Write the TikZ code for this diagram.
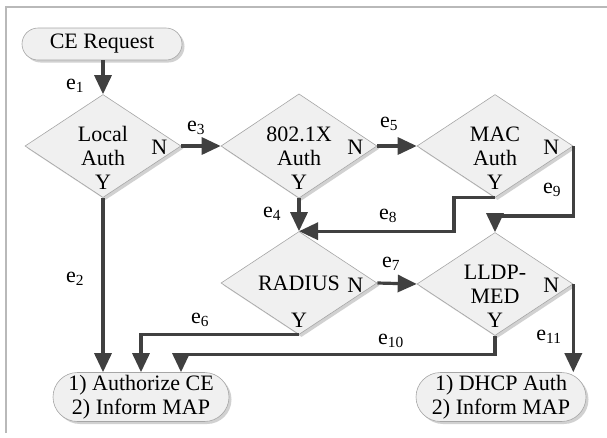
\documentclass[tikz,border=0pt]{standalone}
\usepackage{fontspec}
\setmainfont{Liberation Serif}
\usetikzlibrary{shapes.geometric,shapes.misc,arrows.meta,shadows,calc}

\tikzset{
  shapeline/.style={draw=gray!70, line width=0.6pt, fill=gray!12,
    drop shadow={shadow xshift=2.5pt, shadow yshift=-2.5pt, fill=gray!45, opacity=0.8}},
  decision/.style={shapeline, diamond, minimum width=156pt, minimum height=103pt,
    inner sep=0pt, align=center},
  terminal/.style={shapeline, rounded rectangle, inner sep=0pt, align=center},
  flow/.style={draw=black!75, line width=3.2pt,
    -{Triangle[length=19pt,width=17pt]}},
  branch/.style={inner sep=0pt},
  edgelbl/.style={inner sep=0pt},
}

\begin{document}
\begin{tikzpicture}[x=1pt, y=-1pt, font=\fontsize{22}{24}\selectfont]
\useasboundingbox (0,0) rectangle (607,437);

% page frame
\draw[gray!55, line width=1.2pt] (6,433) -- (6,7) -- (607,7);

% start and end states
\node[terminal, minimum width=160pt, minimum height=32pt] (ce) at (102,44) {CE Request};
\node[terminal, minimum width=176pt, minimum height=49pt] (auth) at (141,397)
  {1) Authorize CE\\2) Inform MAP};
\node[terminal, minimum width=170pt, minimum height=49pt] (dhcp) at (501,397)
  {1) DHCP Auth\\2) Inform MAP};

% decisions
\node[decision] (local) at (103,146) {Local\\Auth};
\node[decision] (dot1x) at (299,146) {802.1X\\Auth};
\node[decision] (mac)   at (495,146) {MAC\\Auth};
\node[decision] (rad)   at (299,283) {RADIUS};
\node[decision] (lldp)  at (495,284) {LLDP-\\MED};

% branch marks
\node[branch] (localN) at ($(local.east)+(-22,1)$) {N};
\node[branch] (localY) at ($(local.south)+(0,-16)$) {Y};
\node[branch] (dot1xN) at ($(dot1x.east)+(-22,1)$) {N};
\node[branch] (dot1xY) at ($(dot1x.south)+(0,-16)$) {Y};
\node[branch] (macN)   at ($(mac.east)+(-22,1)$) {N};
\node[branch] (macY)   at ($(mac.south)+(0,-16)$) {Y};
\node[branch] (radN)   at ($(rad.east)+(-22,2)$) {N};
\node[branch] (radY)   at ($(rad.south)+(0,-15)$) {Y};
\node[branch] (lldpN)  at ($(lldp.east)+(-22,1)$) {N};
\node[branch] (lldpY)  at ($(lldp.south)+(0,-16)$) {Y};

% connectors
\draw[flow] (ce.south -| local.north) -- (local.north);
\draw[flow] (local.south) -- (local.south |- auth.north);
\draw[flow] (local.east) -- (dot1x.west);
\draw[flow] (dot1x.south) -- (rad.north);
\draw[flow] (dot1x.east) -- (mac.west);
\draw[flow] (rad.south) -| (auth.north);
\draw[flow] (rad.east) -- (lldp.west);
\draw[flow] (mac.south) -- ++(-41,0) |- (rad.north);
\draw[flow] (mac.east) -- ++(0,70) -| (lldp.north);
\draw[flow] (lldp.south) -- ++(0,19) -| ([xshift=40pt]auth.north);
\draw[flow] (lldp.east) -- (lldp.east |- dhcp.north);

% connector labels
\node[edgelbl] (l1)  at (75,86)   {e\textsubscript{1}};
\node[edgelbl] (l2)  at (75,279)  {e\textsubscript{2}};
\node[edgelbl] (l3)  at (196,128) {e\textsubscript{3}};
\node[edgelbl] (l4)  at (272,214) {e\textsubscript{4}};
\node[edgelbl] (l5)  at (389,124) {e\textsubscript{5}};
\node[edgelbl] (l6)  at (200,320) {e\textsubscript{6}};
\node[edgelbl] (l7)  at (391,264) {e\textsubscript{7}};
\node[edgelbl] (l8)  at (388,216) {e\textsubscript{8}};
\node[edgelbl] (l9)  at (552,190) {e\textsubscript{9}};
\node[edgelbl] (l10) at (391,341) {e\textsubscript{10}};
\node[edgelbl] (l11) at (549,337) {e\textsubscript{11}};
\end{tikzpicture}
\end{document}
